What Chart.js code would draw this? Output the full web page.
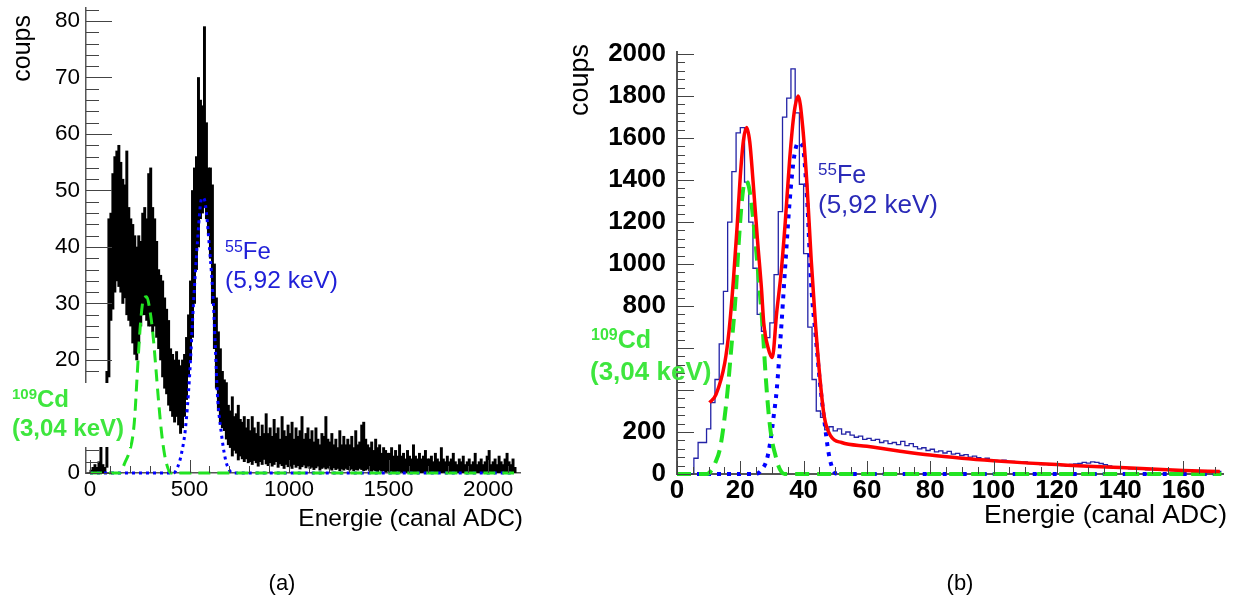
<!DOCTYPE html>
<html>
<head>
<meta charset="utf-8">
<title>Spectres 109Cd / 55Fe</title>
<script src="https://cdn.jsdelivr.net/npm/chart.js@4.4.1/dist/chart.umd.min.js"></script>
<style>
  html, body { margin: 0; padding: 0; background: #fff; }
  #wrap { position: relative; width: 1240px; height: 598px; overflow: hidden; }
  #boxA { position: absolute; left: 0; top: 0; width: 560px; height: 598px; }
  #boxB { position: absolute; left: 560px; top: 0; width: 680px; height: 598px; }
</style>
</head>
<body>
<div id="wrap">
  <div id="boxA"><canvas id="chartA" width="560" height="598"></canvas></div>
  <div id="boxB"><canvas id="chartB" width="680" height="598"></canvas></div>
</div>
<script>
// ---------- panel (a) : raw spectrum, bins grouped by 10 channels ----------
var aStep = 10;
// upper / lower edge of the noisy histogram in each group of 10 channels (from ch 0)
var aHigh = [
  0.5, 1, 1.5, 1, 2, 4.6, 1.5, 1, 18, 45,
  46, 53, 56, 57, 58, 55, 52, 51, 57, 47,
  45, 44, 42, 40, 42, 41, 46, 47, 45, 53,
  54, 47, 45, 41, 36, 35, 34, 31, 29, 27,
  22, 21, 20, 21.5, 20, 19, 20, 21, 24, 28,
  34, 50, 54, 56, 70, 66, 65, 79, 62, 54,
  54, 51, 37, 31, 25, 22, 18, 16.5, 16, 12,
  11, 13.5, 10, 10.5, 12, 9.5, 9, 10, 8, 9.5,
  7.5, 10, 8, 7, 9, 6.5, 8.5, 7, 10.5, 7,
  8, 6.5, 9.5, 7, 8, 6, 10, 7.5, 6.5, 8.5,
  7, 9, 6, 8, 6.5, 7.5, 10, 6, 7, 8,
  6, 7.5, 5.5, 8, 6, 5, 7, 6.5, 10, 6,
  5.5, 7, 5, 6, 4.5, 7.5, 5, 6.5, 5, 6,
  5, 6.5, 4.5, 7.5, 5, 5.5, 8.5, 9, 6, 5,
  4.5, 5.5, 4, 6, 4.5, 5, 3.5, 4.5, 4, 3.5,
  3.5, 4.5, 3, 4, 3, 5, 3, 3.5, 2.5, 4,
  3, 2.5, 5, 3, 2.5, 3.5, 2.5, 3, 4, 2.5,
  2.5, 3, 2, 3.5, 2.5, 2, 4.5, 2.5, 2, 3,
  2, 2.5, 3.5, 2, 1.5, 2.5, 2, 3, 1.5, 2,
  2.5, 1.5, 2, 3.5, 1.5, 2, 2.5, 1.5, 2, 3,
  4, 1.5, 2, 2.5, 1.5, 3, 2, 1.5, 2.5, 3.5,
  2, 1.5, 2.5, 1
];
var aLow = [
  0, 0, 0, 0, 0, 0, 0, 0, 1, 17,
  27, 29, 32, 34, 33, 32, 30, 31, 28, 27,
  26, 23, 21, 20, 23, 26, 28, 28, 27, 26,
  26, 25, 26, 24, 22, 20, 17, 15, 14, 12,
  11, 10, 9, 10, 8.5, 7, 8, 10, 13, 17,
  20, 24, 30, 36, 40, 45, 46, 47, 45, 42,
  38, 30, 22, 15, 11, 9, 8, 7.5, 6, 5,
  4.5, 3, 4, 3.5, 2.3, 3, 2.5, 2, 2.5, 1.8,
  2, 1.5, 2.2, 1.8, 1.2, 2, 1.5, 2.4, 1.6, 1.3,
  1.8, 1.2, 1.5, 2, 1, 1.6, 1.3, 0.8, 1.5, 1.1,
  1.2, 0.8, 1.5, 1, 1.3, 0.7, 1.1, 1.4, 0.9, 1.2,
  0.8, 1, 0.6, 0.9, 1.2, 0.5, 0.8, 1, 0.7, 0.9,
  0.7, 0.5, 0.9, 0.6, 0.8, 0.4, 0.7, 0.5, 0.8, 0.6,
  0.5, 0.7, 0.4, 0.6, 0.5, 0.8, 0.6, 0.4, 0.5, 0.7,
  0.4, 0.3, 0.5, 0.4, 0.2, 0.5, 0.3, 0.4, 0.2, 0.3,
  0.2, 0.3, 0, 0.2, 0.3, 0.1, 0.2, 0, 0.2, 0.1,
  0, 0.2, 0, 0.1, 0, 0.2, 0, 0.1, 0, 0,
  0, 0, 0.1, 0, 0, 0, 0, 0.1, 0, 0,
  0, 0, 0, 0, 0, 0, 0, 0, 0, 0,
  0, 0, 0, 0, 0, 0, 0, 0, 0, 0,
  0, 0, 0, 0, 0, 0, 0, 0, 0, 0,
  0, 0, 0, 0
];
// gaussian fits
var aCdCh  = [0, 150, 175, 200, 215, 225, 235, 245, 255, 270, 285, 300, 315, 330, 345, 360, 375, 390, 405, 2130];
var aCdFit = [0, 0, 1.8, 4, 6.5, 10, 16, 22, 27, 31, 31.2, 29, 25, 19, 12.5, 7, 3.2, 1, 0, 0];
var aFeCh  = [0, 420, 440, 460, 480, 500, 520, 540, 560, 570, 580, 600, 620, 630, 640, 660, 680, 700, 720, 2130];
var aFeFit = [0, 0, 1, 3.5, 8, 17, 30, 41, 48.5, 48.7, 47.5, 40, 30, 22, 14, 7, 2.5, 0.5, 0, 0];
var aXTicks = [0, 500, 1000, 1500, 2000];
var aXLabels = ['0', '500', '1000', '1500', '2000'];
var aYTicks = [0, 10, 20, 30, 40, 50, 60, 70, 80];
var aYLabels = ['0', '10', '20', '30', '40', '50', '60', '70', '80'];

// ---------- panel (b) : rebinned spectrum with total fit ----------
var bStep = 4 / 3;
var bCounts = [
  0, 0, 0, 0, 0, 75, 150, 150, 215, 340,
  450, 620, 870, 1200, 1440, 1625, 1650, 1390, 1200, 980,
  760, 680, 650, 720, 950, 1250, 1700, 1790, 1930, 1720,
  1380, 1050, 700, 450, 300, 270, 210, 225, 205, 215,
  190, 200, 185, 175, 180, 165, 170, 160, 165, 150,
  158, 145, 150, 140, 155, 135, 145, 130, 120, 125,
  112, 118, 105, 110, 100, 108, 95, 98, 88, 92,
  80, 85, 78, 70, 75, 68, 65, 62, 66, 58,
  60, 56, 54, 58, 50, 52, 48, 45, 47, 44,
  42, 45, 40, 38, 46, 48, 50, 55, 52, 58,
  55, 50, 45, 38, 35, 30, 32, 28, 25, 27,
  24, 22, 20, 22, 18, 20, 17, 18, 16, 15,
  17, 14, 15, 13, 14, 12, 13, 11, 12
];
var bTotE   = [10.3, 12.3, 15.1, 16.5, 17.8, 19, 20, 21, 22, 23, 24, 25.4, 26.7, 27.4, 28.8, 30.1, 31.5, 32.9, 34.2, 35.6, 37, 38.3, 39.7, 41.1, 42.4, 43.8, 45.2, 46.5, 48.6, 52, 60, 70, 80, 90, 100, 110, 120, 130, 140, 150, 160, 171.5];
var bTotFit = [340, 378, 530, 690, 920, 1180, 1420, 1590, 1650, 1580, 1400, 1120, 880, 720, 600, 555, 770, 960, 1200, 1500, 1720, 1800, 1655, 1370, 1020, 704, 450, 275, 180, 150, 132, 110, 90, 75, 63, 53, 45, 37, 31, 24, 17, 12];
var bCdE    = [0, 9.5, 11, 12, 13.7, 15.8, 17.2, 18.5, 19.5, 20.5, 21.5, 22.5, 23.5, 24.7, 26, 27, 28, 29, 30, 31, 32, 33, 34, 172];
var bCdFit  = [0, 0, 20, 50, 130, 370, 608, 845, 1100, 1300, 1395, 1380, 1290, 1117, 893, 710, 470, 280, 160, 95, 40, 10, 0, 0];
var bFeE    = [0, 25, 27, 28.4, 29.5, 30.5, 31.5, 32.9, 34.2, 35.6, 37, 38.3, 39.7, 41.1, 42.4, 43.8, 45.2, 46.5, 47.9, 49.3, 51, 172];
var bFeFit  = [0, 0, 25, 70, 155, 270, 400, 690, 990, 1300, 1510, 1578, 1560, 1310, 900, 660, 430, 260, 100, 20, 0, 0];
var bXTicks = [0, 20, 40, 60, 80, 100, 120, 140, 160];
var bXLabels = ['0', '20', '40', '60', '80', '100', '120', '140', '160'];
var bYTicks = [0, 200, 800, 1000, 1200, 1400, 1600, 1800, 2000];
var bYLabels = ['0', '200', '800', '1000', '1200', '1400', '1600', '1800', '2000'];
var bYMajor = [0, 200, 400, 600, 800, 1000, 1200, 1400, 1600, 1800, 2000];

var GREEN = '#22e322';
var GREEN_TXT = '#3ee63e';
var FE_BLUE = '#0000ff';
var FONT = '"Liberation Sans", Arial, sans-serif';

Chart.defaults.font.family = FONT;

function pts(xs, ys) {
  return xs.map(function (x, i) { return { x: x, y: ys[i] }; });
}

function range(from, to, step) {
  var out = [];
  for (var v = from; v <= to + 1e-9; v += step) out.push(v);
  return out;
}

// ROOT style ticks drawn inside the frame, plus labels
function decor(cfg) {
  function marks(ctx, scale, list, len, horiz, area) {
    list.forEach(function (v) {
      if (v < scale.min || v > scale.max) return;
      var p = Math.round(scale.getPixelForValue(v)) + 0.5;
      ctx.beginPath();
      if (horiz) { ctx.moveTo(p, area.bottom); ctx.lineTo(p, area.bottom - len); }
      else { ctx.moveTo(area.left, p); ctx.lineTo(area.left + len, p); }
      ctx.stroke();
    });
  }
  return {
    id: 'decor',
    afterDatasetsDraw: function (chart) {
      var ctx = chart.ctx, area = chart.chartArea;
      ctx.save();
      ctx.strokeStyle = cfg.tickColor;
      ctx.lineWidth = 1;
      marks(ctx, chart.scales.x, cfg.xMinor, cfg.xMinorLen, true, area);
      marks(ctx, chart.scales.x, cfg.xMajor, cfg.xMajorLen, true, area);
      marks(ctx, chart.scales.y, cfg.yMinor, cfg.yMinorLen, false, area);
      marks(ctx, chart.scales.y, cfg.yMajor, cfg.yMajorLen, false, area);
      ctx.restore();
    },
    afterDraw: function (chart) {
      var ctx = chart.ctx;
      ctx.save();
      if (cfg.mask) {
        ctx.fillStyle = '#fff';
        ctx.fillRect(cfg.mask[0], cfg.mask[1], cfg.mask[2], cfg.mask[3]);
      }
      cfg.texts.forEach(function (t) {
        ctx.fillStyle = t.color;
        ctx.textBaseline = 'alphabetic';
        if (t.rotate) {
          ctx.save();
          ctx.translate(t.x, t.y);
          ctx.rotate(-Math.PI / 2);
          ctx.font = t.runs[0][1];
          ctx.textAlign = 'right';
          ctx.fillText(t.runs[0][0], 0, 0);
          ctx.restore();
          return;
        }
        ctx.textAlign = t.align || 'left';
        var cx = t.x;
        t.runs.forEach(function (r) {
          ctx.font = r[1];
          ctx.fillText(r[0], cx, t.y + (r[2] || 0));
          cx += ctx.measureText(r[0]).width;
        });
      });
      ctx.restore();
    }
  };
}

function fitLine(data, color, width, dash, order) {
  return {
    type: 'line', data: data, borderColor: color, borderWidth: width, borderDash: dash,
    pointRadius: 0, fill: false, cubicInterpolationMode: 'monotone', order: order, clip: false
  };
}

// ---------- chart (a) ----------
var aHist = aHigh.map(function (h, i) { return { x: i * aStep + aStep / 2, y: [aLow[i], h] }; });

new Chart(document.getElementById('chartA'), {
  type: 'line',
  data: {
    datasets: [
      { type: 'bar', data: aHist, backgroundColor: '#000', borderWidth: 0,
        barPercentage: 1, categoryPercentage: 1, barThickness: 2.3, grouped: false, order: 5 },
      fitLine(pts(aCdCh, aCdFit), GREEN, 3, [12, 7], 2),
      fitLine(pts(aFeCh, aFeFit), FE_BLUE, 3, [3, 4], 3)
    ]
  },
  options: {
    responsive: false, devicePixelRatio: 1, animation: false,
    layout: { padding: { left: 0, top: 8, right: 40, bottom: 65 } },
    plugins: { legend: { display: false }, tooltip: { enabled: false } },
    scales: {
      x: {
        type: 'linear', min: -20, max: 2160, offset: false,
        grid: { display: false, drawTicks: false },
        border: { display: true, color: '#555', width: 1.5 },
        ticks: { color: '#000', font: { size: 22.5 }, padding: 3, autoSkip: false, maxRotation: 0,
                 callback: function (v, i) { return aXLabels[i]; } },
        afterBuildTicks: function (s) { s.ticks = aXTicks.map(function (v) { return { value: v }; }); },
        afterFit: function (s) { s.height = 60; s.paddingLeft = 0; s.paddingRight = 0; }
      },
      y: {
        type: 'linear', min: 0, max: 82.3,
        grid: { display: false, drawTicks: false },
        border: { display: true, color: '#555', width: 1.5 },
        ticks: { color: '#000', font: { size: 22.5 }, padding: 6, autoSkip: false,
                 callback: function (v, i) { return aYLabels[i]; } },
        afterBuildTicks: function (s) { s.ticks = aYTicks.map(function (v) { return { value: v }; }); },
        afterFit: function (s) { s.width = 86; s.paddingTop = 0; s.paddingBottom = 0; }
      }
    }
  },
  plugins: [decor({
    tickColor: '#444',
    xMajor: aXTicks, xMajorLen: 13, xMinor: range(0, 2100, 100), xMinorLen: 7,
    yMajor: aYTicks, yMajorLen: 26, yMinor: range(0, 82, 2), yMinorLen: 13,
    mask: [8, 383, 122, 64],
    texts: [
      { x: 30, y: 15, rotate: true, color: '#000', runs: [['coups', '25px ' + FONT]] },
      { x: 523, y: 526, align: 'right', color: '#000', runs: [['Energie (canal ADC)', '24.5px ' + FONT]] },
      { x: 225, y: 259, color: '#2020d8', runs: [['55', '16px ' + FONT, -7], ['Fe', '24px ' + FONT]] },
      { x: 225, y: 288, color: '#2020d8', runs: [['(5,92 keV)', '24.5px ' + FONT]] },
      { x: 12, y: 407, color: GREEN_TXT, runs: [['109', 'bold 15px ' + FONT, -8], ['Cd', 'bold 24px ' + FONT]] },
      { x: 12, y: 436, color: GREEN_TXT, runs: [['(3,04 keV)', 'bold 24px ' + FONT]] },
      { x: 282, y: 590, align: 'center', color: '#000', runs: [['(a)', '22px "Liberation Sans Narrow", ' + FONT]] }
    ]
  })]
});

// ---------- chart (b) ----------
var bEdges = bCounts.map(function (c, i) { return i * bStep; });
var bHist = pts(bEdges, bCounts);
bHist.push({ x: bCounts.length * bStep, y: bCounts[bCounts.length - 1] });

new Chart(document.getElementById('chartB'), {
  type: 'line',
  data: {
    datasets: [
      { data: bHist, borderColor: '#2323a6', borderWidth: 1.3, stepped: 'after',
        pointRadius: 0, fill: false, order: 5 },
      fitLine(pts(bCdE, bCdFit), GREEN, 4, [14, 8], 2),
      fitLine(pts(bFeE, bFeFit), FE_BLUE, 4, [4, 6], 3),
      fitLine(pts(bTotE, bTotFit), '#ff0000', 3.5, [], 1)
    ]
  },
  options: {
    responsive: false, devicePixelRatio: 1, animation: false,
    layout: { padding: { left: 0, top: 52, right: 17, bottom: 64 } },
    plugins: { legend: { display: false }, tooltip: { enabled: false } },
    scales: {
      x: {
        type: 'linear', min: 0, max: 172.5, offset: false,
        grid: { display: false, drawTicks: false },
        border: { display: true, color: '#555', width: 2 },
        ticks: { color: '#000', font: { size: 26, weight: 'bold' }, padding: 1, autoSkip: false, maxRotation: 0,
                 callback: function (v, i) { return bXLabels[i]; } },
        afterBuildTicks: function (s) { s.ticks = bXTicks.map(function (v) { return { value: v }; }); },
        afterFit: function (s) { s.height = 60; s.paddingLeft = 0; s.paddingRight = 0; }
      },
      y: {
        type: 'linear', min: 0, max: 2010,
        grid: { display: false, drawTicks: false },
        border: { display: true, color: '#555', width: 2 },
        ticks: { color: '#000', font: { size: 26, weight: 'bold' }, padding: 11, autoSkip: false,
                 callback: function (v, i) { return bYLabels[i]; } },
        afterBuildTicks: function (s) { s.ticks = bYTicks.map(function (v) { return { value: v }; }); },
        afterFit: function (s) { s.width = 117; s.paddingTop = 0; s.paddingBottom = 0; }
      }
    }
  },
  plugins: [decor({
    tickColor: '#444',
    xMajor: bXTicks, xMajorLen: 13, xMinor: range(0, 170, 5), xMinorLen: 7,
    yMajor: bYMajor, yMajorLen: 17, yMinor: range(0, 2000, 40), yMinorLen: 8,
    mask: null,
    texts: [
      { x: 28, y: 44, rotate: true, color: '#000', runs: [['coups', '27px ' + FONT]] },
      { x: 667, y: 523, align: 'right', color: '#000', runs: [['Energie (canal ADC)', '26.5px ' + FONT]] },
      { x: 258, y: 183, color: '#2a2ab8', runs: [['55', '17px ' + FONT, -8], ['Fe', '25px ' + FONT]] },
      { x: 258, y: 213, color: '#2a2ab8', runs: [['(5,92 keV)', '26px ' + FONT]] },
      { x: 31, y: 348, color: GREEN_TXT, runs: [['109', 'bold 16px ' + FONT, -8], ['Cd', 'bold 25px ' + FONT]] },
      { x: 30, y: 380, color: GREEN_TXT, runs: [['(3,04 keV)', 'bold 26px ' + FONT]] },
      { x: 400, y: 590, align: 'center', color: '#000', runs: [['(b)', '22px "Liberation Sans Narrow", ' + FONT]] }
    ]
  })]
});
</script>
</body>
</html>
